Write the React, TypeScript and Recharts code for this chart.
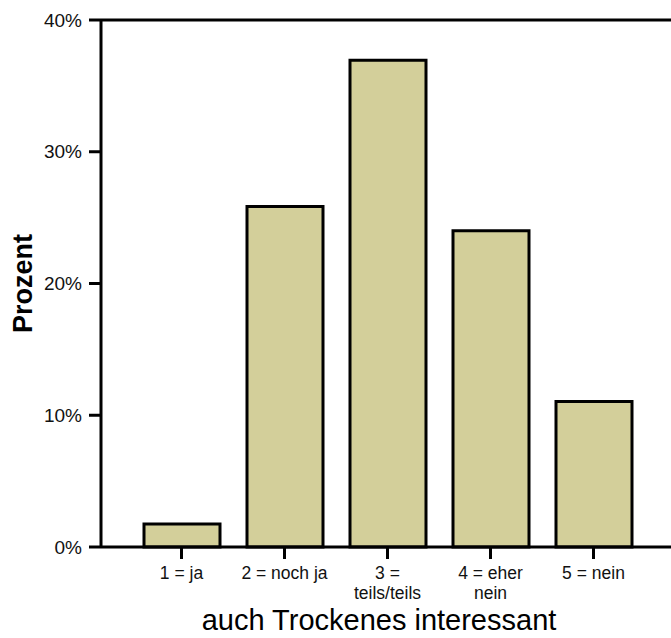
import React from 'react';
import { BarChart, Bar, XAxis, YAxis, ReferenceLine, Label } from 'recharts';

const categories = ['1 = ja', '2 = noch ja', '3 =\nteils/teils', '4 = eher\nnein', '5 = nein'];
const percentValues = [1.75, 25.85, 36.95, 24.0, 11.05];
const yTicks = [0, 10, 20, 30, 40];

const data = categories.map((label, i) => ({ label, value: percentValues[i] }));

const BAR_COLOR = '#d3cf9a';
const FONT = '"Liberation Sans", Arial, sans-serif';

// x-axis tick with line breaks
const CategoryTick = ({ x, y, payload }: any) => {
  const lines = String(payload.value).split('\n');
  return (
    <text x={x} y={y} textAnchor="middle" fontFamily={FONT} fontSize={17.5} fill="#111">
      {lines.map((line, i) => (
        <tspan key={i} x={x} dy={i === 0 ? 18 : 20}>
          {line}
        </tspan>
      ))}
    </text>
  );
};

const YTitle = ({ viewBox }: any) => {
  const cx = 32;
  const cy = viewBox.y + viewBox.height / 2;
  return (
    <text
      x={cx}
      y={cy}
      transform={`rotate(-90, ${cx}, ${cy})`}
      textAnchor="middle"
      fontFamily={FONT}
      fontWeight="bold"
      fontSize={27}
      fill="#000"
    >
      Prozent
    </text>
  );
};

const XTitle = ({ viewBox }: any) => (
  <text
    x={379}
    y={viewBox.y + 83}
    textAnchor="middle"
    fontFamily={FONT}
    fontSize={29}
    fill="#000"
  >
    auch Trockenes interessant
  </text>
);

export default function App() {
  return (
    <div style={{ position: 'absolute', left: 0, top: 0, background: '#fff' }}>
      <BarChart
        width={671}
        height={638}
        data={data}
        margin={{ top: 20, right: 0, left: 0, bottom: 0 }}
      >
        <XAxis
          dataKey="label"
          height={91}
          padding={{ left: 29, right: 26 }}
          axisLine={{ stroke: '#000', strokeWidth: 3 }}
          tickLine={{ stroke: '#000', strokeWidth: 3 }}
          tickSize={12}
          tick={<CategoryTick />}
          interval={0}
        >
          <Label content={<XTitle />} />
        </XAxis>
        <YAxis
          width={101}
          domain={[0, 40]}
          ticks={yTicks}
          tickFormatter={(v) => `${v}%`}
          axisLine={{ stroke: '#000', strokeWidth: 3 }}
          tickLine={{ stroke: '#000', strokeWidth: 3 }}
          tickSize={12}
          tickMargin={7}
          tick={{ fontFamily: FONT, fontSize: 19, fill: '#111' }}
        >
          <Label content={<YTitle />} />
        </YAxis>
        <ReferenceLine y={40} stroke="#000" strokeWidth={3} />
        <Bar
          dataKey="value"
          fill={BAR_COLOR}
          stroke="#000"
          strokeWidth={3}
          barSize={76}
          isAnimationActive={false}
        />
      </BarChart>
    </div>
  );
}
